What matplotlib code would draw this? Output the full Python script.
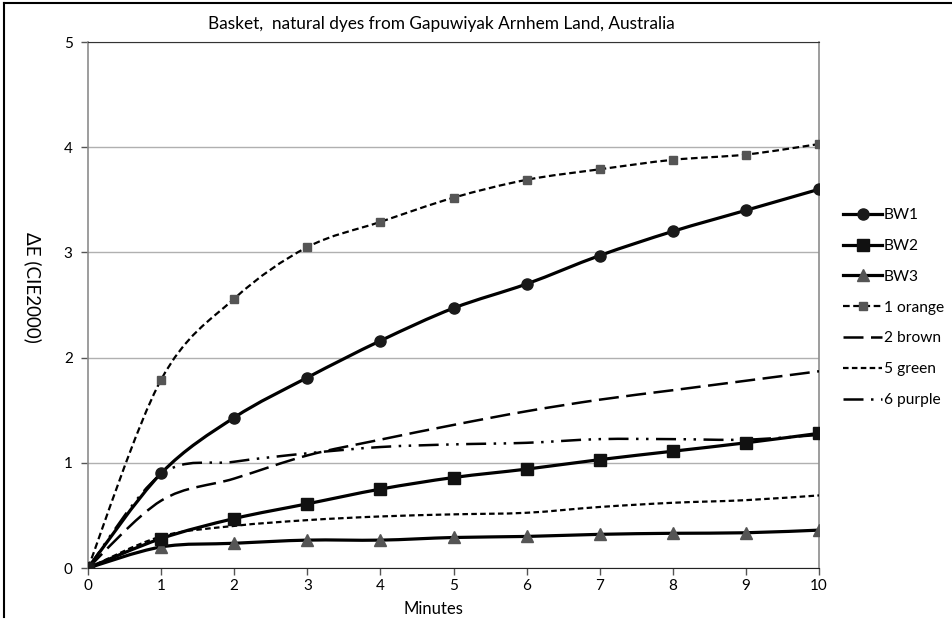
import numpy as np
import matplotlib
matplotlib.use("Agg")
import matplotlib.pyplot as plt
from matplotlib.path import Path
from matplotlib.patches import PathPatch
from matplotlib.lines import Line2D

plt.rcParams['font.family'] = ['Lato', 'DejaVu Sans']

minutes = [0, 1, 2, 3, 4, 5, 6, 7, 8, 9, 10]
bw1 = [0, 0.90, 1.43, 1.81, 2.16, 2.47, 2.70, 2.97, 3.20, 3.40, 3.60]
bw2 = [0, 0.28, 0.47, 0.61, 0.75, 0.86, 0.94, 1.03, 1.11, 1.19, 1.28]
bw3 = [0, 0.20, 0.235, 0.265, 0.265, 0.29, 0.30, 0.32, 0.33, 0.335, 0.36]
orange1 = [0, 1.79, 2.56, 3.05, 3.29, 3.52, 3.69, 3.79, 3.88, 3.93, 4.03]
brown2 = [0, 0.64, 0.85, 1.07, 1.22, 1.36, 1.49, 1.60, 1.69, 1.78, 1.87]
green5 = [0, 0.30, 0.40, 0.455, 0.49, 0.51, 0.525, 0.58, 0.62, 0.645, 0.69]
purple6 = [0, 0.89, 1.01, 1.09, 1.15, 1.175, 1.19, 1.225, 1.225, 1.22, 1.265]

series = [
    ("BW1", bw1, dict(color='black', lw=2.3, ls='-'), dict(marker='o', ms=8, mfc='#1a1a1a', mec='#1a1a1a')),
    ("BW2", bw2, dict(color='black', lw=2.3, ls='-'), dict(marker='s', ms=8, mfc='#111111', mec='#111111')),
    ("BW3", bw3, dict(color='black', lw=2.3, ls='-'), dict(marker='^', ms=8, mfc='#555555', mec='#555555')),
    ("1 orange", orange1, dict(color='black', lw=1.6, ls=(0, (3, 1.6))), dict(marker='s', ms=6, mfc='#555555', mec='#555555')),
    ("2 brown", brown2, dict(color='black', lw=1.8, ls=(0, (8, 3))), None),
    ("5 green", green5, dict(color='black', lw=1.6, ls=(0, (2.5, 1.5))), None),
    ("6 purple", purple6, dict(color='black', lw=1.8, ls=(0, (8, 3, 1, 3, 1, 3))), None),
]

fig = plt.figure(figsize=(9.52, 6.19), dpi=100)
ax = fig.add_axes([88/952, 1-568/619, (819-88)/952, (568-42)/619])


def smooth_path(xs, ys):
    xs = np.asarray(xs, float)
    ys = np.asarray(ys, float)
    n = len(xs)
    verts = [(xs[0], ys[0])]
    codes = [Path.MOVETO]
    for i in range(n - 1):
        i0 = max(i - 1, 0)
        i3 = min(i + 2, n - 1)
        c1 = (xs[i] + (xs[i+1] - xs[i0]) / 6, ys[i] + (ys[i+1] - ys[i0]) / 6)
        c2 = (xs[i+1] - (xs[i3] - xs[i]) / 6, ys[i+1] - (ys[i3] - ys[i]) / 6)
        verts += [c1, c2, (xs[i+1], ys[i+1])]
        codes += [Path.CURVE4] * 3
    return Path(verts, codes)


handles = []
for name, vals, lstyle, mstyle in reversed(series):
    p = PathPatch(smooth_path(minutes, vals), fill=False, edgecolor=lstyle['color'],
                  lw=lstyle['lw'], ls=lstyle['ls'], capstyle='butt', zorder=3)
    ax.add_patch(p)
    if mstyle:
        ax.plot(minutes, vals, ls='none', zorder=4, **mstyle)

for name, vals, lstyle, mstyle in series:
    kw = dict(color=lstyle['color'], lw=lstyle['lw'], ls=lstyle['ls'])
    if mstyle:
        kw.update(mstyle)
    handles.append(Line2D([], [], label=name, **kw))

ax.set_xlim(0, 10)
ax.set_ylim(0, 5)
ax.set_xticks(minutes)
ax.set_yticks([0, 1, 2, 3, 4, 5])
ax.grid(axis='y', color='#b0b0b0', lw=1)
ax.set_axisbelow(True)
ax.tick_params(axis='both', labelsize=11, length=5, width=1, color='#555555', pad=3)
ax.tick_params(axis='y', pad=6)
for s in ['left', 'right']:
    ax.spines[s].set_color('#8c8c8c')
    ax.spines[s].set_linewidth(1.2)
ax.spines['top'].set_color('#333333')
ax.spines['bottom'].set_color('#222222')

ax.set_title("Basket,  natural dyes from Gapuwiyak Arnhem Land, Australia", fontsize=12.4,
             x=0.484, pad=9)
ax.set_xlabel("Minutes", fontsize=12, labelpad=4)
ax.xaxis.set_label_coords(0.473, -0.063)
ax.set_ylabel("\u0394E (CIE2000)", fontsize=13.5, rotation=270, va='center')
ax.yaxis.set_label_coords(-0.075, 0.534)

leg = ax.legend(handles=handles, loc='center left', bbox_to_anchor=(1.025, 0.495),
                frameon=False, fontsize=11.2, handlelength=2.5, handletextpad=0.1,
                labelspacing=1.08, borderaxespad=0)

fig.add_artist(Line2D([4/952, 951/952], [1-3/619, 1-3/619], color='black', lw=1.5))
fig.add_artist(Line2D([4/952, 4/952], [1-3/619, 1-617/619], color='black', lw=1.5))

fig.savefig("out.png", dpi=100)
